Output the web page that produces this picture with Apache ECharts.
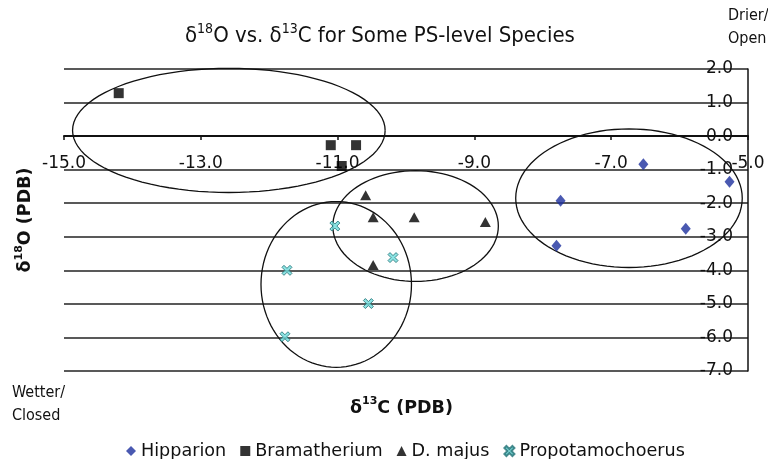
<!DOCTYPE html>
<html><head><meta charset="utf-8">
<script src="https://cdn.jsdelivr.net/npm/echarts@6/dist/echarts.min.js"></script>
<style>html,body{margin:0;padding:0;background:#fff;}#c{width:768px;height:459px;}</style>
</head><body><div id="c"></div>
<script>
// Data (δ13C, δ18O)
const hipparion = [[-6.53,-0.84],[-5.27,-1.36],[-7.74,-1.93],[-5.91,-2.76],[-7.80,-3.27]];
const bramatherium = [[-14.2,1.28],[-11.1,-0.27],[-10.73,-0.27],[-10.94,-0.89]];
const dMajus = [[-10.59,-1.76],[-10.48,-2.42],[-9.88,-2.42],[-8.84,-2.56],[-10.48,-3.84]];
const propotamochoerus = [[-11.04,-2.68],[-10.19,-3.62],[-11.74,-4.0],[-10.55,-4.99],[-11.77,-5.98]];
// Group ellipses: [centerX, centerY, radiusX, radiusY] in data units
const groupEllipses = [[-12.59,0.17,2.285,1.85],[-9.86,-2.68,1.21,1.65],[-11.02,-4.42,1.10,2.47],[-6.74,-1.85,1.656,2.065]];
const xTicks = {min:-15, max:-5, interval:2};
const yTicks = {min:-7, max:2, interval:1};
const seriesNames = ['Hipparion','Bramatherium','D. majus','Propotamochoerus'];

const FONT = 'DejaVu Sans';
const FONTC = 'DejaVu Sans Condensed';
const xPath = 'path://M0,2 L2,0 L5,3 L8,0 L10,2 L7,5 L10,8 L8,10 L5,7 L2,10 L0,8 L3,5 Z';

const GRID_TOP = 69, GRID_BOTTOM = 88, H = 459;
const plotH = H - GRID_TOP - GRID_BOTTOM;
// x axis sits at δ18O = 0
const xAxisOffset = -plotH * (0 - yTicks.min) / (yTicks.max - yTicks.min);

const chart = echarts.init(document.getElementById('c'));
chart.setOption({
  animation:false,
  backgroundColor:'#fff',
  title:{
    text:'{m|δ}{s|18}{m|O vs. δ}{s|13}{m|C for Some PS-level Species}',
    left:180, top:17,
    textStyle:{
      fontWeight:'normal',
      rich:{
        m:{fontFamily:FONTC, fontWeight:'normal', fontSize:22, color:'#111', lineHeight:29},
        s:{fontFamily:FONTC, fontWeight:'normal', fontSize:14, color:'#111', verticalAlign:'top', lineHeight:29}
      }
    }
  },
  legend:{
    data:seriesNames,
    left:121, top:437,
    itemWidth:10, itemHeight:10, itemGap:14,
    textStyle:{fontFamily:FONT, fontSize:17.6, color:'#111'}
  },
  grid:{left:64, right:20, top:GRID_TOP, bottom:GRID_BOTTOM, containLabel:false},
  xAxis:{
    type:'value', min:xTicks.min, max:xTicks.max, interval:xTicks.interval,
    position:'bottom', offset:xAxisOffset,
    axisLine:{onZero:false, lineStyle:{color:'#111', width:2}},
    axisTick:{show:true, length:4, lineStyle:{color:'#111', width:1.5}},
    axisLabel:{margin:19, fontFamily:FONT, fontSize:17, color:'#111', formatter:v=>v.toFixed(1)},
    splitLine:{show:false}
  },
  yAxis:[{
    type:'value', min:yTicks.min, max:yTicks.max, interval:yTicks.interval,
    position:'right',
    axisLine:{show:true, onZero:false, lineStyle:{color:'#111', width:1.5}},
    axisTick:{show:false},
    axisLabel:{inside:true, margin:15, fontFamily:FONT, fontSize:17, color:'#111', formatter:v=>v.toFixed(1)},
    splitLine:{show:true, lineStyle:{color:'#222', width:1.5}}
  },{
    type:'value', min:yTicks.min, max:yTicks.max, interval:yTicks.interval,
    position:'left',
    axisLine:{show:false}, axisTick:{show:false}, axisLabel:{show:false}, splitLine:{show:false},
    name:'{m|δ}{s|18}{m|O (PDB)}', nameLocation:'middle', nameRotate:90, nameGap:28,
    nameTextStyle:{rich:{
      m:{fontFamily:FONT, fontWeight:'bold', fontSize:17.5, color:'#111', lineHeight:22},
      s:{fontFamily:FONT, fontWeight:'bold', fontSize:11, color:'#111', verticalAlign:'top', lineHeight:22}
    }}
  }],
  graphic:[
    {type:'text', left:350, top:396, style:{text:'{m|δ}{s|13}{m|C (PDB)}', rich:{
      m:{fontFamily:FONT, fontWeight:'bold', fontSize:17.5, fill:'#111', lineHeight:24},
      s:{fontFamily:FONT, fontWeight:'bold', fontSize:11, fill:'#111', verticalAlign:'top', lineHeight:24}
    }}},
    {type:'text', left:12, top:381, style:{text:'Wetter/\nClosed', fontFamily:FONTC, fontSize:16, fill:'#111', lineHeight:23}},
    {type:'text', left:728, top:4, style:{text:'Drier/\nOpen', fontFamily:FONTC, fontSize:16, fill:'#111', lineHeight:23}}
  ],
  series:[
    {name:'Hipparion', type:'scatter', data:hipparion, symbol:'diamond', symbolSize:[10,12], itemStyle:{color:'#1d2f9e'}, z:5},
    {name:'Bramatherium', type:'scatter', data:bramatherium, symbol:'rect', symbolSize:10, itemStyle:{color:'#000'}, z:5},
    {name:'D. majus', type:'scatter', data:dMajus, symbol:'triangle', symbolSize:[11,10], itemStyle:{color:'#000'}, z:5},
    {name:'Propotamochoerus', type:'scatter', data:propotamochoerus, symbol:xPath, symbolSize:10, itemStyle:{color:'#6fdcdc', borderColor:'#1f6f73', borderWidth:1}, z:5},
    {type:'custom', silent:true, z:4, data:groupEllipses,
     renderItem:function(params, api){
       const cx=api.value(0), cy=api.value(1), rx=api.value(2), ry=api.value(3);
       const pts=[];
       for(let i=0;i<=96;i++){
         const t=i/96*Math.PI*2;
         pts.push(api.coord([cx+rx*Math.cos(t), cy+ry*Math.sin(t)]));
       }
       return {type:'polyline', shape:{points:pts}, style:{fill:null, stroke:'#111', lineWidth:1.3}};
     }}
  ]
});
</script></body></html>
